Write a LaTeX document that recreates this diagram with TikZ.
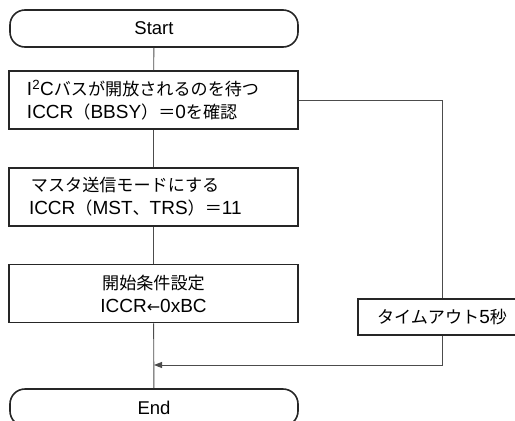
\documentclass[tikz,border=0pt]{standalone}
\usepackage{fontspec}
\setmainfont{Liberation Sans}
\newfontfamily\jpfont[Scale=0.9]{Noto Sans CJK JP}
\newfontfamily\arrowfont{DejaVu Sans}
\newcommand\J[1]{{\jpfont #1}}
\usetikzlibrary{arrows.meta}
\begin{document}
\begin{tikzpicture}[x=1pt,y=-1pt,
  box/.style={draw=black!85,line width=1.6pt,minimum width=289pt,minimum height=58pt,inner sep=0pt,font=\fontsize{19}{23}\selectfont},
  lbox/.style={box,text width=253pt,inner xsep=18pt,align=left},
  cbox/.style={box,text width=289pt,align=center},
  term/.style={draw=black!85,line width=1.6pt,rounded corners=15pt,minimum width=288pt,minimum height=37pt,inner sep=0pt,font=\fontsize{18.5}{22}\selectfont},
  conn/.style={draw=black!70,line width=0.9pt}]
\useasboundingbox (0,0) rectangle (515,421);
\node[term] (start) at (154,28.5) {Start};
\node[lbox] (b1) at (153.5,100) {I\textsuperscript{2}C\J{バスが開放されるのを待つ}\\ICCR\J{（}BBSY\J{）＝}0\J{を確認}};
\node[lbox] (b2) at (153.5,197) {\hspace*{4pt}\J{マスタ送信モードにする}\\\hspace*{2pt}ICCR\J{（}MST\J{、}TRS\J{）＝}11};
\node[cbox] (b3) at (153.5,293.5) {\J{開始条件設定}\\ICCR{\arrowfont\fontsize{16}{23}\selectfont ←}0xBC};
\node[term] (end) at (154,407.5) {End};
\node[draw=black!85,line width=1.6pt,minimum width=168pt,minimum height=36pt,inner sep=0pt,font=\fontsize{19}{22}\selectfont] (to) at (442,317) {\J{タイムアウト}5\J{秒}};
\coordinate (join) at (154,365);
\draw[conn] (start) -- (b1);
\draw[conn] (b1) -- (b2);
\draw[conn] (b2) -- (b3);
\draw[conn] (b3) -- (end);
\draw[conn] (b1.east) -| (to.north);
\draw[conn,-{Triangle[length=8pt,width=6pt]}] (to.south) |- (join);
\end{tikzpicture}
\end{document}
